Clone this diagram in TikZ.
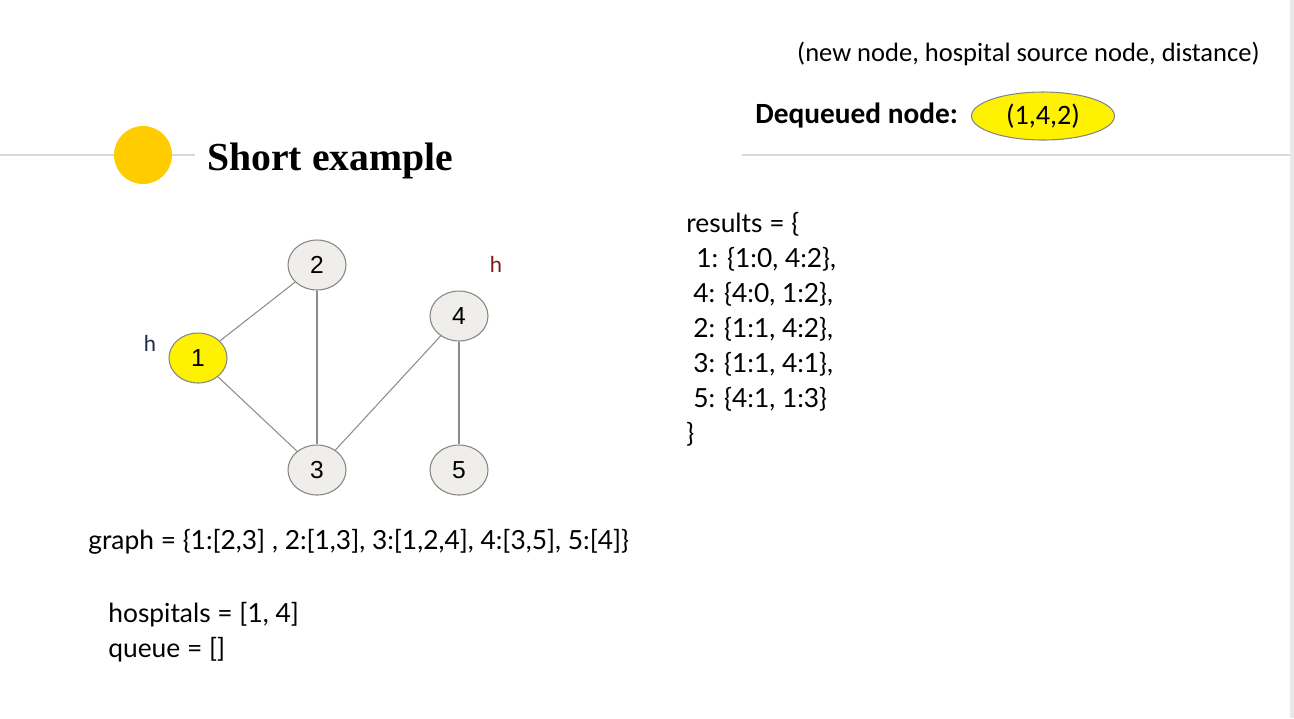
\documentclass[tikz,border=0pt]{standalone}
\usepackage{fontspec}
\usepackage{xcolor}
\usepackage{tikz}
\usetikzlibrary{shapes.geometric, positioning}
\setmainfont{Lato}
\newfontfamily\titlefont{Liberation Serif}
\newfontfamily\labelfont{Liberation Sans}
\newfontfamily\calfont{Carlito}
\definecolor{rulegray}{HTML}{D9D9D9}
\definecolor{sunyellow}{HTML}{FFCC00}
\definecolor{nodefill}{HTML}{EFEEEA}
\definecolor{nodeedge}{HTML}{858585}
\definecolor{edgegray}{HTML}{8C8C8C}
\definecolor{hred}{HTML}{7A1A1A}
\definecolor{hblue}{HTML}{1F2A4A}

\begin{document}
\begin{tikzpicture}[
    x=0.02cm, y=-0.02cm,
    vertex/.style={ellipse, draw=nodeedge, fill=nodefill, line width=0.6pt, minimum width=1.16cm, minimum height=1cm, inner sep=0pt, font=\labelfont\fontsize{14}{16}\selectfont},
    link/.style={draw=edgegray, line width=0.6pt},
    code/.style={anchor=base west, font=\fontsize{15}{18}\selectfont, inner sep=0pt},
    hmark/.style={anchor=base, font=\fontsize{12.5}{14}\selectfont, inner sep=0pt}
]
\useasboundingbox (0,0) rectangle (1294,718);

% Header rule and title
\draw[rulegray, line width=1.1pt] (0,155) -- (195,155);
\draw[rulegray, line width=1.1pt] (742,155) -- (1290,155);
\fill[gray!18] (1290,0) rectangle (1294,718);
\fill[sunyellow] (143,155) circle (29);
\node[anchor=base west, inner sep=0pt, font=\titlefont\bfseries\fontsize{22.6}{26}\selectfont] (title) at (207,170) {Short example};

% Dequeued node
\node[anchor=base east, inner sep=0pt, font=\calfont\fontsize{15.1}{18}\selectfont] (legend) at (1260,61) {(new node, hospital source node, distance)};
\node[anchor=base west, inner sep=0pt, font=\calfont\bfseries\fontsize{16.7}{19}\selectfont] (deqlabel) at (755,123) {Dequeued node:};
\node[ellipse, draw=nodeedge, fill=yellow, line width=0.6pt, minimum width=2.86cm, minimum height=0.96cm, inner sep=0pt, font=\calfont\fontsize{16}{18}\selectfont] (deq) at (1043,116) {(1,4,2)};

% Graph
\node[vertex, fill=yellow] (n1) at (198,358) {1};
\node[vertex] (n2) at (317,265) {2};
\node[vertex] (n3) at (317,470) {3};
\node[vertex] (n4) at (459,316) {4};
\node[vertex] (n5) at (459,470) {5};

\draw[link] (n1) -- (n2);
\draw[link] (n1) -- (n3);
\draw[link] (n2) -- (n3);
\draw[link] (n3) -- (n4);
\draw[link] (n4) -- (n5);

% Hospital marks
\node[hmark, color=hblue] (h1) at (150,351) {h};
\node[hmark, color=hred] (h4) at (496,272) {h};

% Data structures
\node[code] (graph) at (88,549) {graph = \{1:[2,3] , 2:[1,3], 3:[1,2,4], 4:[3,5], 5:[4]\}};
\node[code] (hosp) at (108,622) {hospitals = [1, 4]};
\node[code] (queue) at (108,657) {queue = []};

\node[code] (res0) at (686,232) {results = \{};
\node[code] (res1) at (696,267) {1: \{1:0, 4:2\},};
\node[code] (res2) at (693,302) {4: \{4:0, 1:2\},};
\node[code] (res3) at (693,337) {2: \{1:1, 4:2\},};
\node[code] (res4) at (693,372) {3: \{1:1, 4:1\},};
\node[code] (res5) at (693,407) {5: \{4:1, 1:3\}};
\node[code] (res6) at (686,442) {\}};

\end{tikzpicture}
\end{document}
